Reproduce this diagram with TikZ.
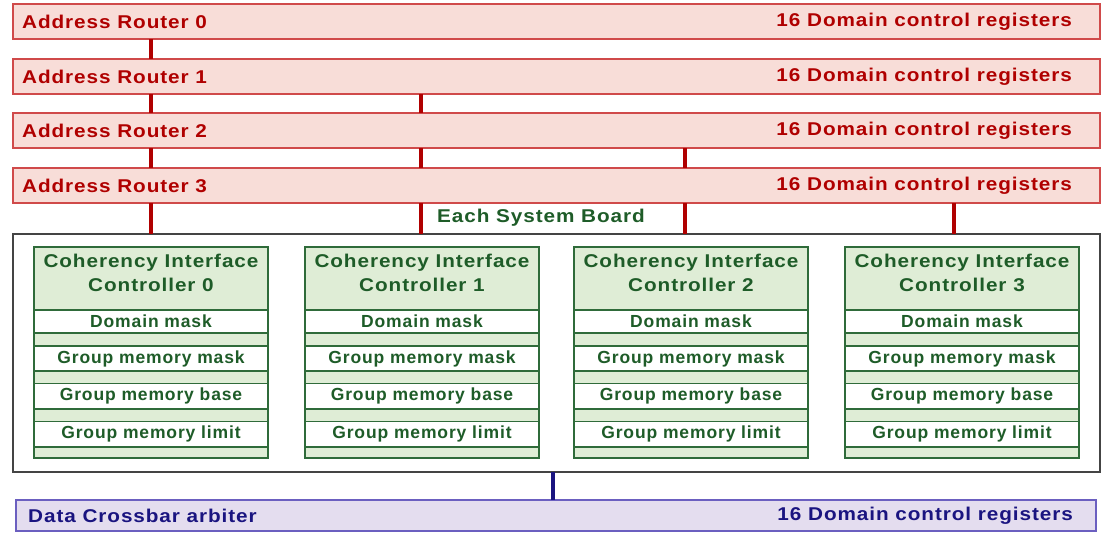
\documentclass[tikz,border=0pt]{standalone}
\usepackage{fontspec}
\newfontfamily\diagfont{Liberation Sans}[LetterSpace=5, FakeStretch=1.12]
\newfontfamily\rowfont{Liberation Sans}[LetterSpace=5]

\definecolor{rfill}{HTML}{F8DDD8}
\definecolor{rdraw}{HTML}{D04A4A}
\definecolor{rtextc}{HTML}{B00000}
\definecolor{gfill}{HTML}{DFEDD6}
\definecolor{gdraw}{HTML}{2F6B3A}
\definecolor{gtextc}{HTML}{1E5C28}
\definecolor{pfill}{HTML}{E4DDEF}
\definecolor{pdraw}{HTML}{6B5FC0}
\definecolor{ptextc}{HTML}{1A1480}
\definecolor{bdraw}{HTML}{444444}

\tikzset{
  lbl/.style={inner sep=0pt, font=\diagfont\bfseries\fontsize{18.5}{24}\selectfont},
  rowlbl/.style={inner sep=0pt, font=\rowfont\bfseries\fontsize{17.5}{20}\selectfont},
  router/.style={draw=rdraw, fill=rfill, line width=1.4pt, minimum width=1087pt,
                 minimum height=35pt, inner sep=0pt, outer sep=0pt},
  rtext/.style={lbl, text=rtextc},
  rlink/.style={draw=rtextc, line width=3.6pt},
  board/.style={draw=bdraw, line width=1.5pt, fill=white, minimum width=1087pt,
                minimum height=238pt, inner sep=0pt, outer sep=0pt},
  cichead/.style={draw=gdraw, fill=gfill, line width=1.3pt, minimum width=234pt,
                  minimum height=63pt, inner sep=0pt, outer sep=0pt},
  cicrow/.style={draw=gdraw, fill=white, line width=1.3pt, minimum width=234pt,
                 rowlbl, text=gtextc, outer sep=0pt},
  cicstrip/.style={draw=gdraw, fill=gfill, line width=1.3pt, minimum width=234pt,
                   inner sep=0pt, outer sep=0pt},
  gtext/.style={lbl, text=gtextc},
  xbar/.style={draw=pdraw, fill=pfill, line width=1.4pt, minimum width=1080pt,
               minimum height=31pt, inner sep=0pt, outer sep=0pt},
  ptext/.style={lbl, text=ptextc},
  plink/.style={draw=ptextc, line width=3.6pt},
}

\begin{document}
\begin{tikzpicture}[x=1pt, y=-1pt]
\useasboundingbox (0,0) rectangle (1105,533);

% address routers
\foreach \i/\y in {0/4,1/59,2/113,3/168} {
  \node[router, anchor=north west] (r\i) at (13,\y) {};
  \node[rtext, anchor=west] (r\i l) at ([xshift=9pt]r\i.west) {Address Router \i};
  \node[rtext, anchor=east] (r\i r) at ([xshift=-28pt]r\i.east) {16 Domain control registers};
}

% system board
\node[board, anchor=north west] (board) at (13,234) {};
\node[gtext] (boardlbl) at (541,218) {Each System Board};

% router links
\coordinate (ca) at (151,0);
\coordinate (cb) at (421,0);
\coordinate (cc) at (685,0);
\coordinate (cd) at (954,0);
\draw[rlink] (r0.south -| ca) -- (r1.north -| ca);
\draw[rlink] (r1.south -| ca) -- (r2.north -| ca);
\draw[rlink] (r1.south -| cb) -- (r2.north -| cb);
\foreach \c in {ca,cb,cc} \draw[rlink] (r2.south -| \c) -- (r3.north -| \c);
\foreach \c in {ca,cb,cc,cd} \draw[rlink] (r3.south -| \c) -- (board.north -| \c);

% coherency interface controllers
\foreach \i/\x in {0/34,1/305,2/574,3/845} {
  \node[cichead, anchor=north west] (cic\i) at (\x,247) {};
  \node[gtext, align=center] (cic\i t) at ([yshift=6pt]cic\i.center)
       {Coherency Interface\\Controller \i};
  \node[cicrow, anchor=north west, minimum height=23pt] (dm\i) at (cic\i.south west) {Domain mask};
  \node[cicstrip, anchor=north west, minimum height=13pt] (s1\i) at (dm\i.south west) {};
  \node[cicrow, anchor=north west, minimum height=25pt] (gmm\i) at (s1\i.south west) {Group memory mask};
  \node[cicstrip, anchor=north west, minimum height=12.5pt] (s2\i) at (gmm\i.south west) {};
  \node[cicrow, anchor=north west, minimum height=25.5pt] (gmb\i) at (s2\i.south west) {Group memory base};
  \node[cicstrip, anchor=north west, minimum height=12.5pt] (s3\i) at (gmb\i.south west) {};
  \node[cicrow, anchor=north west, minimum height=25.5pt] (gml\i) at (s3\i.south west) {Group memory limit};
  \node[cicstrip, anchor=north west, minimum height=11pt] (s4\i) at (gml\i.south west) {};
}

% data crossbar arbiter
\node[xbar, anchor=north west] (dxb) at (16,500) {};
\node[ptext, anchor=west] (dxbl) at ([xshift=12pt]dxb.west) {Data Crossbar arbiter};
\node[ptext, anchor=east] (dxbr) at ([xshift=-23pt]dxb.east) {16 Domain control registers};
\coordinate (ce) at (553,0);
\draw[plink] (board.south -| ce) -- (dxb.north -| ce);
\end{tikzpicture}
\end{document}
